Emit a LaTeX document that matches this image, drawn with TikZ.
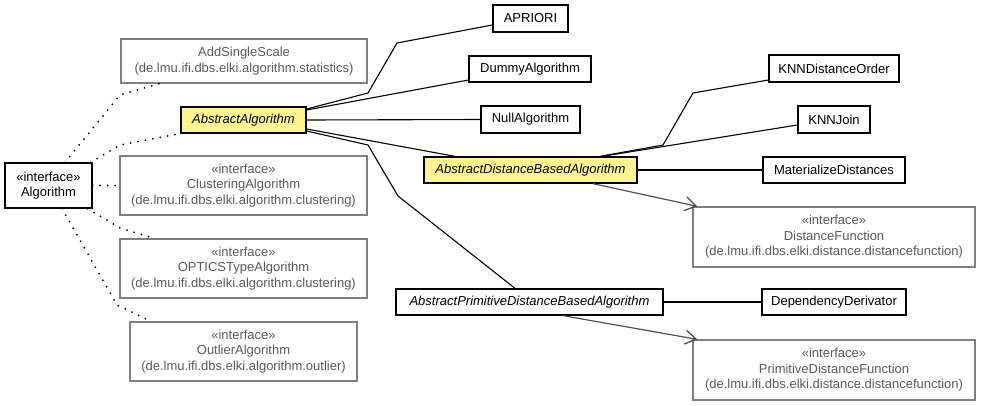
\documentclass[tikz,border=0pt]{standalone}
\usepackage{fontspec}
\setmainfont{Liberation Sans}
\usetikzlibrary{arrows.meta}
\definecolor{yel}{RGB}{255,245,143}
\definecolor{gborder}{RGB}{128,128,128}
\definecolor{gtext}{RGB}{90,90,90}
\definecolor{garrow}{RGB}{80,80,80}
\begin{document}
\begin{tikzpicture}[x=1pt,y=-1pt,
  box/.style={draw=black, line width=1.3pt, fill=white, inner sep=0pt, font=\fontsize{13}{15.5}\selectfont, align=center},
  abs/.style={box, fill=yel, font=\fontsize{13}{15.5}\selectfont\itshape},
  iface/.style={box, draw=gborder, text=gtext},
  gen/.style={line width=1.1pt},
  dep/.style={line width=2pt, dash pattern=on 0pt off 7.5pt, line cap=round},
  use/.style={draw=garrow, line width=1.2pt, -{Straight Barb[length=11pt,width=14pt,line width=1.3pt]}}
]
\useasboundingbox (0,0) rectangle (981,405);
% nodes
\node[box, minimum width=87pt, minimum height=45pt] (alg) at (48.5,185.5) {«interface»\\Algorithm};
\node[iface, minimum width=246pt, minimum height=44pt] (ass) at (244,61) {AddSingleScale\\(de.lmu.ifi.dbs.elki.algorithm.statistics)};
\node[abs, minimum width=125pt, minimum height=26pt] (aa) at (243.5,120) {AbstractAlgorithm};
\node[iface, minimum width=247pt, minimum height=59pt] (clu) at (243.5,185.5) {«interface»\\ClusteringAlgorithm\\(de.lmu.ifi.dbs.elki.algorithm.clustering)};
\node[iface, minimum width=247pt, minimum height=59pt] (opt) at (243.5,268.5) {«interface»\\OPTICSTypeAlgorithm\\(de.lmu.ifi.dbs.elki.algorithm.clustering)};
\node[iface, minimum width=227pt, minimum height=59pt] (out) at (243.5,351.5) {«interface»\\OutlierAlgorithm\\(de.lmu.ifi.dbs.elki.algorithm.outlier)};
\node[box, minimum width=75pt, minimum height=27pt] (apr) at (530.5,18.5) {APRIORI};
\node[box, minimum width=122pt, minimum height=26pt] (dum) at (530,69) {DummyAlgorithm};
\node[box, minimum width=99pt, minimum height=27pt] (nul) at (530.5,119.5) {NullAlgorithm};
\node[abs, minimum width=213pt, minimum height=26pt] (adba) at (530.5,170) {AbstractDistanceBasedAlgorithm};
\node[box, minimum width=267pt, minimum height=26pt, font=\fontsize{13}{15.5}\selectfont\itshape] (apdba) at (529.5,302) {AbstractPrimitiveDistanceBasedAlgorithm};
\node[box, minimum width=130pt, minimum height=27pt] (kdo) at (834,68.5) {KNNDistanceOrder};
\node[box, minimum width=72pt, minimum height=27pt] (kj) at (834,119.5) {KNNJoin};
\node[box, minimum width=142pt, minimum height=26pt] (md) at (834,170) {MaterializeDistances};
\node[iface, minimum width=282pt, minimum height=60pt] (df) at (834,237) {«interface»\\DistanceFunction\\(de.lmu.ifi.dbs.elki.distance.distancefunction)};
\node[box, minimum width=144pt, minimum height=26pt] (dd) at (834,302) {DependencyDerivator};
\node[iface, minimum width=282pt, minimum height=60pt] (pdf) at (834,370) {«interface»\\PrimitiveDistanceFunction\\(de.lmu.ifi.dbs.elki.distance.distancefunction)};
% dotted realization edges
\draw[dep] ([xshift=16.5pt]alg.north) -- (120,95) -- ([xshift=39pt]ass.south west);
\draw[dep] ([xshift=-2pt]alg.north east) -- (120,145) -- (aa.south west);
\draw[dep] (alg.east) -- (clu.west);
\draw[dep] ([xshift=-5pt]alg.south east) -- (120,228) -- ([xshift=35pt]opt.north west);
\draw[dep] ([xshift=13.5pt]alg.south) -- (117,305) -- ([xshift=22pt]out.north west);
% generalization edges
\draw[gen] ([yshift=11pt]aa.east) -- (368,93) -- (397,43) -- ([yshift=-6.5pt]apr.west);
\draw[gen] ([yshift=10pt]aa.east) -- ([yshift=-11pt]dum.west);
\draw[gen] (aa.east) -- (nul.west);
\draw[gen] ([yshift=-9pt]aa.east) -- ([xshift=-75.5pt]adba.north);
\draw[gen] ([yshift=-11pt]aa.east) -- (368,145) -- (398,196) -- ([xshift=-14.5pt]apdba.north);
\draw[gen] ([xshift=69.5pt]adba.north) -- (663,145) -- (693,93) -- ([yshift=-11.5pt]kdo.west);
\draw[gen] ([xshift=71.5pt]adba.north) -- ([yshift=-5.5pt]kj.west);
\draw[gen] (adba.east) -- (md.west);
\draw[gen] (apdba.east) -- (dd.west);
% uses
\draw[use] ([xshift=62.5pt]adba.south) -- ([xshift=5pt]df.north west);
\draw[use] ([xshift=33.5pt]apdba.south) -- ([xshift=5pt]pdf.north west);
\end{tikzpicture}
\end{document}
